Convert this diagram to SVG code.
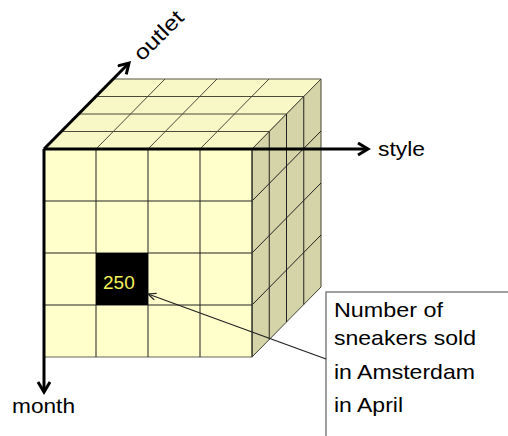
<svg xmlns="http://www.w3.org/2000/svg" width="508" height="436" viewBox="0 0 508 436">
<style>
.front{fill:#FFFFCC;stroke:#666655;stroke-width:1}
.top{fill:#F8F8C6;stroke:#555544;stroke-width:1}
.side{fill:#D4D4A8;stroke:#444433;stroke-width:1}
.g{stroke:#222;stroke-width:1;fill:none}
.gt{stroke:#4a4a3a;stroke-width:1;fill:none}
.axis{stroke:#000;stroke-width:3;fill:none}
.lbl{font-family:"Liberation Sans",Arial,sans-serif;font-size:21px;fill:#000}
.ptr{stroke:#222;stroke-width:1.3;fill:none}
</style>
<defs>
<marker id="ah" markerUnits="userSpaceOnUse" markerWidth="16" markerHeight="16" refX="12" refY="7" orient="auto">
<path d="M2,1 L12,7 L2,13" fill="none" stroke="#000" stroke-width="3" stroke-linejoin="miter"/>
</marker>
<marker id="ahs" markerUnits="userSpaceOnUse" markerWidth="12" markerHeight="10" refX="9" refY="4" orient="auto">
<path d="M1,0.5 L9,4 L1,7.5" fill="none" stroke="#222" stroke-width="1.2"/>
</marker>
</defs>

<g id="cube">
<g id="top-face">
<polygon class="top" points="44,149 252,149 321,79 113,79"/>
<path class="gt" d="M61.25,131.5 H269.25 M78.5,114 H286.5 M95.75,96.5 H303.75 M96,149 L165,79 M148,149 L217,79 M200,149 L269,79"/>
</g>
<g id="side-face">
<polygon class="side" points="252,149 321,79 321,287 252,357"/>
<path class="g" d="M269.25,131.5 V339.5 M286.5,114 V322 M303.75,96.5 V304.5 M252,201 L321,131 M252,253 L321,183 M252,305 L321,235"/>
</g>
<g id="front-face">
<rect class="front" x="44" y="149" width="208" height="208"/>
<path class="g" d="M96,149 V357 M148,149 V357 M200,149 V357 M44,201 H252 M44,253 H252 M44,305 H252"/>
<line x1="252" y1="149" x2="252" y2="357" stroke="#222" stroke-width="1"/>
</g>
</g>

<g id="cell-250">
<rect x="96" y="253" width="52" height="52" fill="#000"/>
<text x="103" y="289" font-family="Liberation Sans, Arial, sans-serif" font-size="19" fill="#F2F25A">250</text>
</g>

<g id="callout">
<rect x="326" y="292" width="200" height="200" fill="#fff" stroke="#808080" stroke-width="1.5"/>
<text class="lbl" x="334" y="317" textLength="109" lengthAdjust="spacingAndGlyphs">Number of</text>
<text class="lbl" x="334" y="345" textLength="142" lengthAdjust="spacingAndGlyphs">sneakers sold</text>
<text class="lbl" x="334" y="379" textLength="141" lengthAdjust="spacingAndGlyphs">in Amsterdam</text>
<text class="lbl" x="334" y="412" textLength="69" lengthAdjust="spacingAndGlyphs">in April</text>
</g>

<g id="connectors">
<line class="axis" x1="44" y1="149" x2="368" y2="149" marker-end="url(#ah)"/>
<line class="axis" x1="44" y1="149" x2="44" y2="392" marker-end="url(#ah)"/>
<line class="axis" x1="44" y1="149" x2="129" y2="63" marker-end="url(#ah)"/>
<line class="ptr" x1="326" y1="359" x2="148" y2="294" marker-end="url(#ahs)"/>
</g>

<g id="axis-labels">
<text class="lbl" x="378" y="156" textLength="47" lengthAdjust="spacingAndGlyphs">style</text>
<text class="lbl" x="12" y="413" textLength="63" lengthAdjust="spacingAndGlyphs">month</text>
<text class="lbl" transform="translate(142,62) rotate(-45)" font-size="22" textLength="61" lengthAdjust="spacingAndGlyphs">outlet</text>
</g>
</svg>
